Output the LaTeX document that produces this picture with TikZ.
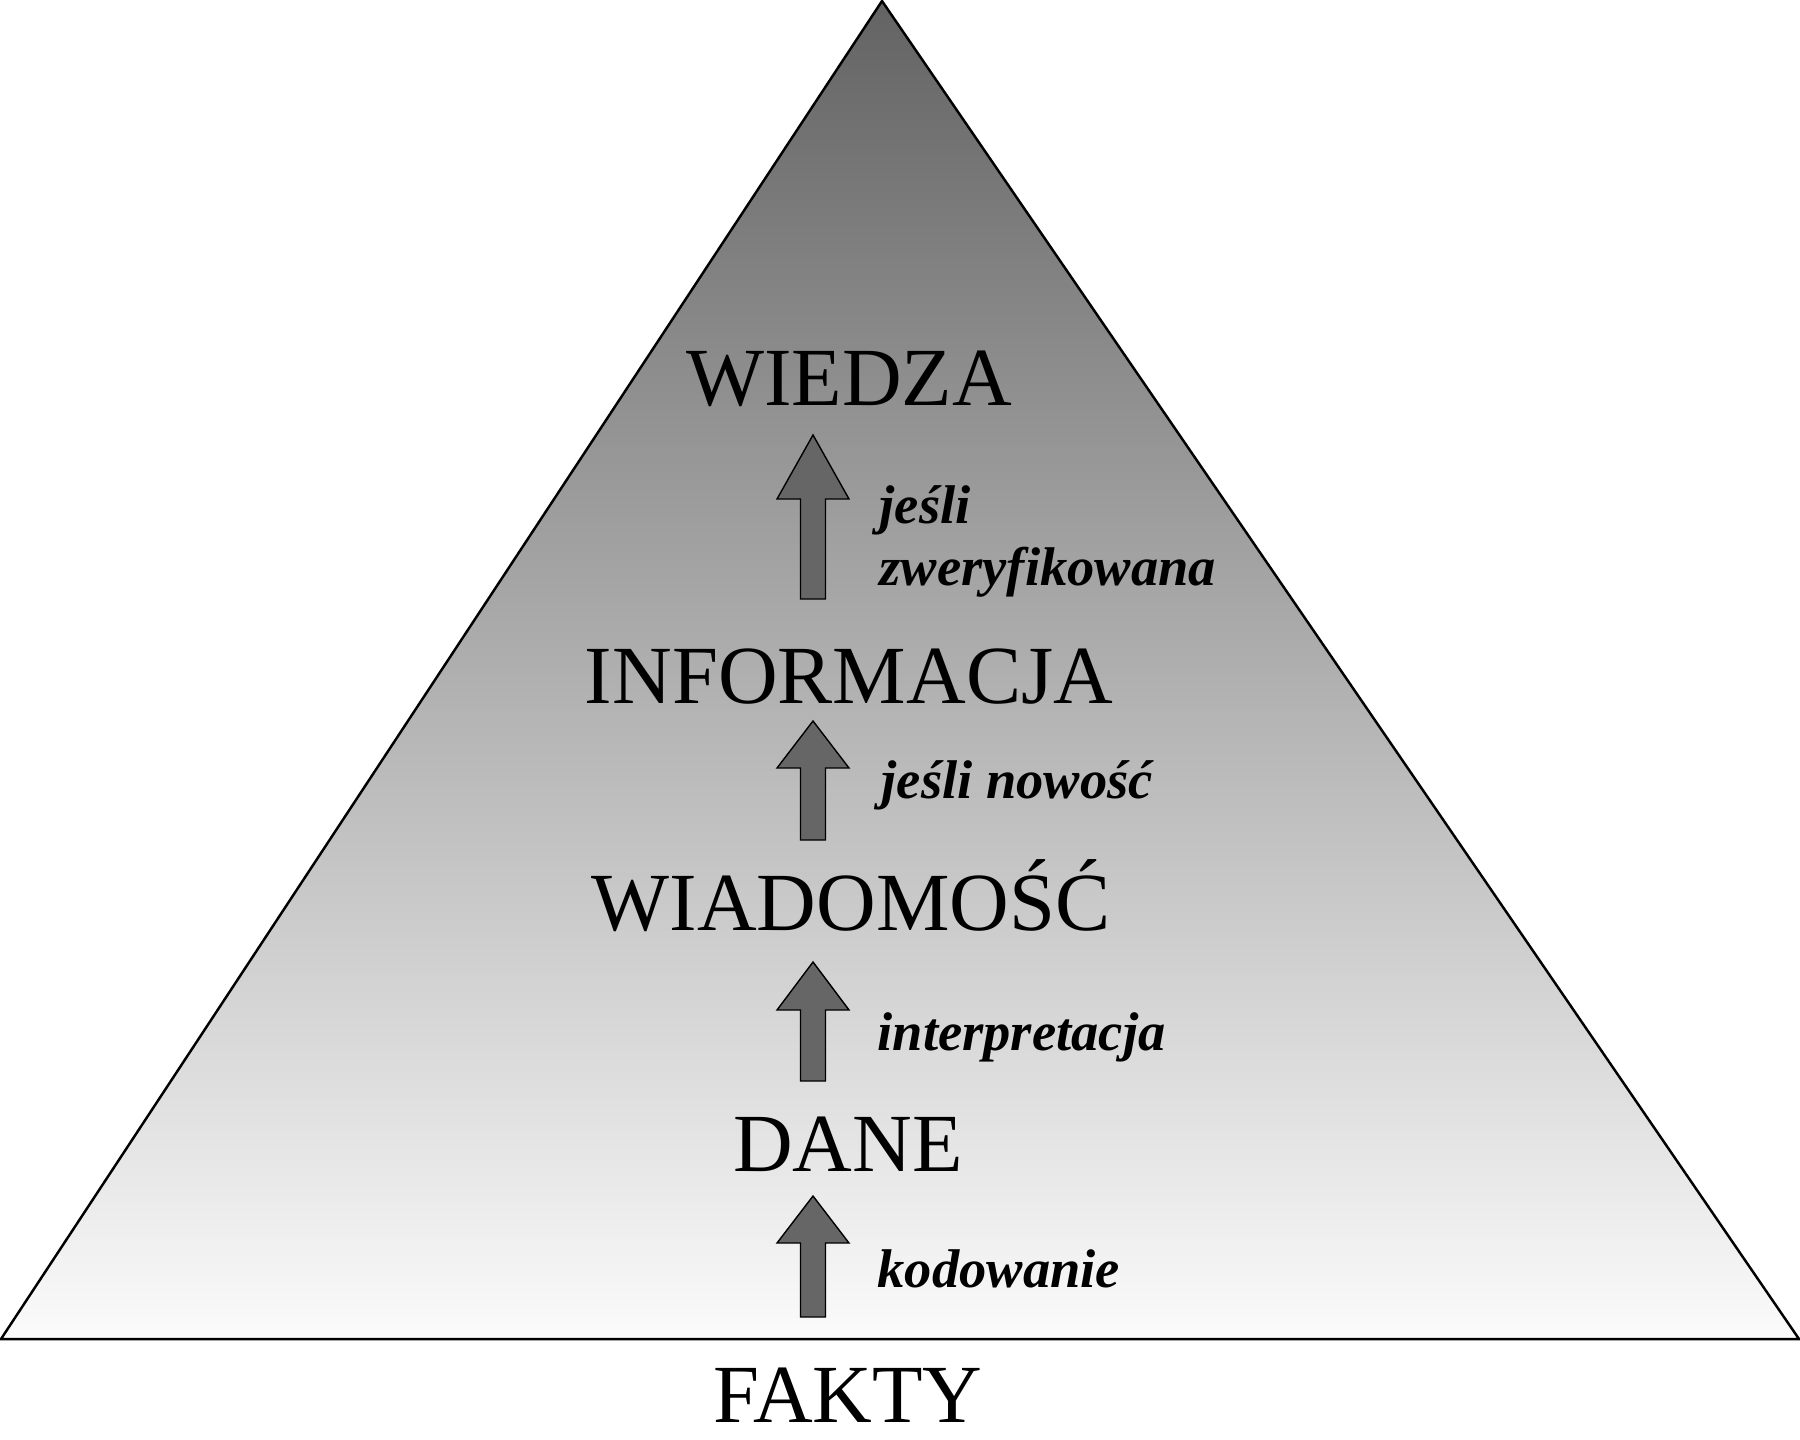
\documentclass[tikz,border=0pt]{standalone}
\usepackage{fontspec}
\setmainfont{Liberation Serif}
\definecolor{apexgray}{HTML}{636363}
\definecolor{basegray}{HTML}{FBFBFB}
\definecolor{arrowgray}{HTML}{666666}
\begin{document}
\begin{tikzpicture}[x=0.01cm,y=-0.01cm,
  level/.style={font=\fontsize{23.5}{28}\selectfont, inner sep=0pt, anchor=base},
  cond/.style={font=\fontsize{15.5}{19}\selectfont\bfseries\itshape, inner sep=0pt, anchor=base west, align=left},
  blockarrow/.style={fill=arrowgray, draw=black, line width=0.4pt, line join=miter}]
\useasboundingbox (0,0) rectangle (1800,1439);
% pyramid
\coordinate (apex) at (882,1);
\coordinate (bl) at (1,1339);
\coordinate (br) at (1799,1339);
\shade[top color=apexgray, bottom color=basegray] (apex) -- (br) -- (bl) -- cycle;
\draw[line width=0.7pt, line join=miter] (apex) -- (br) -- (bl) -- cycle;
% levels
\node[level] (wiedza) at (849,405) {WIEDZA};
\node[level] (informacja) at (849,703) {INFORMACJA};
\node[level] (wiadomosc) at (851,930) {WIADOMOŚĆ};
\node[level] (dane) at (848,1171) {DANE};
\node[level] (fakty) at (848,1422) {FAKTY};
% arrows
\newcommand{\blockarr}[4]{% x, ytop, ybottom, head height
  \draw[blockarrow] (#1-12.5,#3) -- (#1-12.5,#2+#4) -- (#1-36,#2+#4) -- (#1,#2) -- (#1+36,#2+#4) -- (#1+12.5,#2+#4) -- (#1+12.5,#3) -- cycle;}
\blockarr{813}{435}{599}{64}
\blockarr{813}{721}{840}{47}
\blockarr{813}{962}{1081}{48}
\blockarr{813}{1196}{1317}{47}
% conditions
\node[cond] (c1a) at (879,523) {jeśli};
\node[cond] (c1b) at (879,585) {zweryfikowana};
\node[cond] (c2) at (881,798) {jeśli nowość};
\node[cond] (c3) at (877,1050) {interpretacja};
\node[cond] (c4) at (877,1287) {kodowanie};
\end{tikzpicture}
\end{document}
